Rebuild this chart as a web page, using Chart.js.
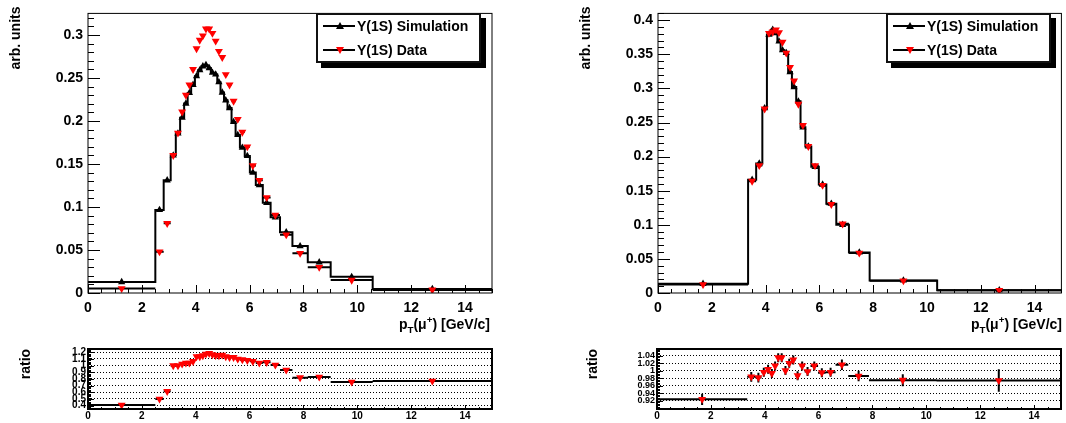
<!DOCTYPE html>
<html><head><meta charset="utf-8">
<script src="https://cdn.jsdelivr.net/npm/chart.js@4.4.1/dist/chart.umd.min.js"></script>
<style>
body{margin:0;background:#fff;}
#wrap{position:relative;width:1066px;height:423px;overflow:hidden;font-family:"Liberation Sans",Arial,sans-serif;font-weight:bold;color:#000;}
canvas{position:absolute;}
.t{position:absolute;font-size:14px;white-space:nowrap;line-height:16px;}
.rot{transform:translate(-50%,-50%) rotate(-90deg);}
.xt{text-align:right;}
.xt sub,.xt sup{font-size:70%;line-height:0;}
.leg{position:absolute;width:161px;height:46px;border:2px solid #111;background:#fff;box-shadow:5px 5px 0 #000;}
.ent{position:absolute;left:0;height:20px;width:160px;font-size:14px;line-height:20px;}
.ent svg{position:absolute;left:5px;top:0;}
.ent span{position:absolute;left:39px;top:0;}
</style></head>
<body><div id="wrap">
<canvas id="c1" width="533" height="340" style="left:0;top:0"></canvas>
<canvas id="c2" width="533" height="340" style="left:533px;top:0"></canvas>
<canvas id="c3" width="533" height="83" style="left:0;top:340px"></canvas>
<canvas id="c4" width="533" height="83" style="left:533px;top:340px"></canvas>

<div class="t rot" style="left:15px;top:38px">arb. units</div>
<div class="t rot" style="left:585px;top:38px">arb. units</div>
<div class="t rot" style="left:25px;top:364px">ratio</div>
<div class="t rot" style="left:592px;top:364px">ratio</div>
<div class="t xt" style="right:576px;top:316px">p<sub>T</sub>(μ<sup>+</sup>) [GeV/c]</div>
<div class="t xt" style="right:4px;top:316px">p<sub>T</sub>(μ<sup>+</sup>) [GeV/c]</div>

<div class="leg" style="left:316px;top:13px">
 <div class="ent" style="top:1px"><svg width="34" height="20"><line x1="0" y1="10" x2="32" y2="10" stroke="#000" stroke-width="2"/><polygon points="17,6 21,13 13,13" fill="#000"/></svg><span>Y(1S) Simulation</span></div>
 <div class="ent" style="top:25px"><svg width="34" height="20"><line x1="0" y1="10" x2="32" y2="10" stroke="#000" stroke-width="2"/><polygon points="13,7 21,7 17,14" fill="#f00"/></svg><span>Y(1S) Data</span></div>
</div>
<div class="leg" style="left:886px;top:13px">
 <div class="ent" style="top:1px"><svg width="34" height="20"><line x1="0" y1="10" x2="32" y2="10" stroke="#000" stroke-width="2"/><polygon points="17,6 21,13 13,13" fill="#000"/></svg><span>Y(1S) Simulation</span></div>
 <div class="ent" style="top:25px"><svg width="34" height="20"><line x1="0" y1="10" x2="32" y2="10" stroke="#000" stroke-width="2"/><polygon points="13,7 21,7 17,14" fill="#f00"/></svg><span>Y(1S) Data</span></div>
</div>
</div>
<script>
// ---------- data ----------
const edgesL = [0, 2.5, 2.81, 3.07, 3.26, 3.42, 3.57, 3.70, 3.83, 3.97, 4.09, 4.21, 4.32, 4.44, 4.56, 4.68, 4.80, 4.92, 5.05, 5.18, 5.33, 5.48, 5.64, 5.82, 6.01, 6.23, 6.49, 6.78, 7.13, 7.59, 8.16, 9.01, 10.57, 15];
const simL = [0.0127, 0.0966, 0.131, 0.160, 0.1856, 0.2037, 0.2202, 0.2326, 0.2420, 0.2520, 0.2590, 0.2635, 0.2650, 0.2615, 0.2560, 0.2540, 0.2450, 0.2330, 0.2240, 0.2150, 0.1988, 0.1838, 0.1690, 0.1593, 0.1400, 0.1255, 0.1048, 0.0880, 0.0707, 0.0545, 0.0357, 0.0188, 0.0047];
const dataL = [0.0053, 0.048, 0.081, 0.160, 0.186, 0.2105, 0.230, 0.242, 0.260, 0.284, 0.294, 0.299, 0.307, 0.307, 0.302, 0.293, 0.281, 0.274, 0.254, 0.242, 0.223, 0.202, 0.187, 0.170, 0.148, 0.131, 0.111, 0.0906, 0.0677, 0.0462, 0.030, 0.015, 0.0036];
const ratioL = [0.41, 0.50, 0.615, 1.00, 1.00, 1.025, 1.04, 1.04, 1.065, 1.135, 1.135, 1.15, 1.175, 1.185, 1.165, 1.155, 1.15, 1.16, 1.135, 1.125, 1.125, 1.10, 1.09, 1.08, 1.065, 1.04, 1.05, 1.01, 0.935, 0.82, 0.83, 0.755, 0.77];

const edgesR = [0, 3.35, 3.65, 3.88, 4.05, 4.20, 4.33, 4.44, 4.56, 4.70, 4.84, 4.98, 5.14, 5.30, 5.48, 5.70, 5.98, 6.26, 6.63, 7.10, 7.87, 10.38, 15];
const simR = [0.0135, 0.166, 0.190, 0.271, 0.379, 0.386, 0.381, 0.369, 0.356, 0.352, 0.324, 0.302, 0.281, 0.243, 0.215, 0.185, 0.159, 0.131, 0.100, 0.0595, 0.0185, 0.0042];
const dataR = [0.0125, 0.164, 0.187, 0.270, 0.381, 0.383, 0.386, 0.382, 0.368, 0.352, 0.331, 0.311, 0.277, 0.246, 0.215, 0.187, 0.158, 0.130, 0.1015, 0.0587, 0.018, 0.0041];
const ratioR = [0.924, 0.984, 0.982, 0.996, 1.004, 0.993, 1.013, 1.035, 1.035, 1.0005, 1.020, 1.029, 0.987, 1.013, 0.998, 1.013, 0.995, 0.996, 1.016, 0.986, 0.975, 0.974];
const ratioErrR = [0.015, 0.013, 0.013, 0.012, 0.012, 0.012, 0.012, 0.012, 0.012, 0.012, 0.012, 0.012, 0.012, 0.012, 0.012, 0.012, 0.012, 0.012, 0.014, 0.014, 0.016, 0.030];

const xTicks = [0, 2, 4, 6, 8, 10, 12, 14];
const yTicksTL = [0, 0.05, 0.1, 0.15, 0.2, 0.25, 0.3];
const yTicksTR = [0, 0.05, 0.1, 0.15, 0.2, 0.25, 0.3, 0.35, 0.4];
const yTicksBL = [0.4, 0.5, 0.6, 0.7, 0.8, 0.9, 1, 1.1, 1.2];
const yTicksBR = [0.92, 0.94, 0.96, 0.98, 1, 1.02, 1.04];

// ---------- helpers ----------
const centers = e => e.slice(0, -1).map((v, i) => (v + e[i + 1]) / 2);
const markers = (cx, v) => v.map((y, i) => ({x: cx[i], y}));
const stepPts = (e, v) => v.map((y, i) => ({x: e[i], y})).concat([{x: e[e.length - 1], y: v[v.length - 1]}]);
const xBars = (e, v) => { const p = []; v.forEach((y, i) => p.push({x: e[i], y}, {x: e[i + 1], y}, {x: e[i + 1], y: null})); return p; };
const yBars = (cx, v, er) => { const p = []; v.forEach((y, i) => p.push({x: cx[i], y: y - er[i]}, {x: cx[i], y: y + er[i]}, {x: cx[i], y: null})); return p; };
const font = s => ({family: "'Liberation Sans', Arial, sans-serif", size: s, weight: 'bold'});

const rootAxes = {
  id: 'rootAxes',
  afterDatasetsDraw(chart, args, o) {
    const {ctx, chartArea: a, scales: {x, y}} = chart;
    ctx.save();
    ctx.strokeStyle = '#000';
    ctx.lineWidth = 1;
    const isMaj = (v, m) => Math.abs(v / m - Math.round(v / m)) < 1e-6;
    ctx.beginPath();
    for (let k = Math.ceil(x.min / o.xMinor - 1e-9); k <= Math.floor(x.max / o.xMinor + 1e-9); k++) {
      const v = k * o.xMinor, px = Math.round(x.getPixelForValue(v)) + 0.5;
      const len = isMaj(v, o.xMajor) ? o.xMajorLen : o.xMinorLen;
      ctx.moveTo(px, a.bottom); ctx.lineTo(px, a.bottom - len);
    }
    for (let k = Math.ceil(y.min / o.yMinor - 1e-9); k <= Math.floor(y.max / o.yMinor + 1e-9); k++) {
      const v = k * o.yMinor, py = Math.round(y.getPixelForValue(v)) + 0.5;
      const len = isMaj(v, o.yMajor) ? o.yMajorLen : o.yMinorLen;
      ctx.moveTo(a.left, py); ctx.lineTo(a.left + len, py);
    }
    ctx.stroke();
    ctx.lineWidth = o.frame;
    ctx.strokeRect(a.left, a.top, a.right - a.left, a.bottom - a.top);
    ctx.restore();
  }
};

function panel(id, sets, p) {
  return new Chart(document.getElementById(id), {
    type: 'line',
    data: {datasets: sets},
    options: {
      responsive: false, animation: false, events: [],
      layout: {padding: {left: 0, top: p.top, right: p.right, bottom: 0}},
      plugins: {legend: {display: false}, tooltip: {enabled: false}, rootAxes: p.ax},
      elements: {line: {tension: 0, fill: false}},
      scales: {
        x: {
          type: 'linear', min: 0, max: 15,
          afterBuildTicks: s => { s.ticks = xTicks.map(v => ({value: v})); },
          afterFit: s => { s.height = p.xh; },
          ticks: {font: font(p.xf), color: '#000', padding: p.xpad, autoSkip: false, maxRotation: 0, callback: v => String(v)},
          grid: {display: false, drawTicks: false}, border: {display: false}
        },
        y: {
          type: 'linear', min: p.ymin, max: p.ymax,
          afterBuildTicks: s => { s.ticks = p.yt.map(v => ({value: v})); },
          afterFit: s => { s.width = p.yw; },
          ticks: {font: font(p.yf), color: '#000', padding: p.ypad, autoSkip: false, callback: v => String(v)},
          grid: p.grid ? {display: true, drawOnChartArea: true, drawTicks: false, color: '#000', lineWidth: 1}
                       : {display: false, drawTicks: false},
          border: {display: false, dash: [1, 2]}
        }
      }
    },
    plugins: [rootAxes]
  });
}

const redM = (d, r) => ({data: d, showLine: false, pointStyle: 'triangle', rotation: 180, pointRadius: r, pointHoverRadius: r, pointBackgroundColor: '#ff0000', pointBorderColor: '#ff0000', pointBorderWidth: 0});
const blkM = d => ({data: d, showLine: false, pointStyle: 'triangle', pointRadius: 4.2, pointHoverRadius: 4.2, pointBackgroundColor: '#000', pointBorderColor: '#000', pointBorderWidth: 0});
const lineDS = (d, w, stepped) => ({data: d, borderColor: '#000', borderWidth: w, pointRadius: 0, pointHoverRadius: 0, stepped: stepped || false, spanGaps: false});

const cL = centers(edgesL), cR = centers(edgesR);
const axTop = {xMajor: 2, xMinor: 0.5, xMajorLen: 8, xMinorLen: 4, yMajorLen: 12, yMinorLen: 6, frame: 1};

panel('c1', [
  redM(markers(cL, dataL), 4.6), blkM(markers(cL, simL)),
  lineDS(xBars(edgesL, dataL), 2), lineDS(stepPts(edgesL, simL), 2, 'before')
], {top: 5, right: 41, xh: 47, yw: 88, xf: 14, yf: 14, xpad: 7, ypad: 5, ymin: 0, ymax: 0.325, yt: yTicksTL, grid: false,
    ax: Object.assign({}, axTop, {yMajor: 0.05, yMinor: 0.01})});

panel('c2', [
  redM(markers(cR, dataR), 4.6), blkM(markers(cR, simR)),
  lineDS(xBars(edgesR, dataR), 2), lineDS(stepPts(edgesR, simR), 2, 'before')
], {top: 5, right: 4, xh: 47, yw: 125, xf: 14, yf: 14, xpad: 7, ypad: 5, ymin: 0, ymax: 0.41, yt: yTicksTR, grid: false,
    ax: Object.assign({}, axTop, {yMajor: 0.05, yMinor: 0.01})});

panel('c3', [
  redM(markers(cL, ratioL), 4.6), lineDS(xBars(edgesL, ratioL), 2)
], {top: 9, right: 41, xh: 14, yw: 88, xf: 10, yf: 10, xpad: 1, ypad: 2, ymin: 0.35, ymax: 1.25, yt: yTicksBL, grid: true,
    ax: {xMajor: 2, xMinor: 0.5, xMajorLen: 4, xMinorLen: 2, yMajor: 0.1, yMinor: 0.02, yMajorLen: 6, yMinorLen: 3, frame: 2}});

panel('c4', [
  redM(markers(cR, ratioR), 4.6), lineDS(yBars(cR, ratioR, ratioErrR), 2), lineDS(xBars(edgesR, ratioR), 2)
], {top: 9, right: 5, xh: 14, yw: 124, xf: 10, yf: 9, xpad: 1, ypad: 2, ymin: 0.898, ymax: 1.058, yt: yTicksBR, grid: true,
    ax: {xMajor: 2, xMinor: 0.5, xMajorLen: 4, xMinorLen: 2, yMajor: 0.02, yMinor: 0.004, yMajorLen: 6, yMinorLen: 3, frame: 2}});
</script>
</body></html>
